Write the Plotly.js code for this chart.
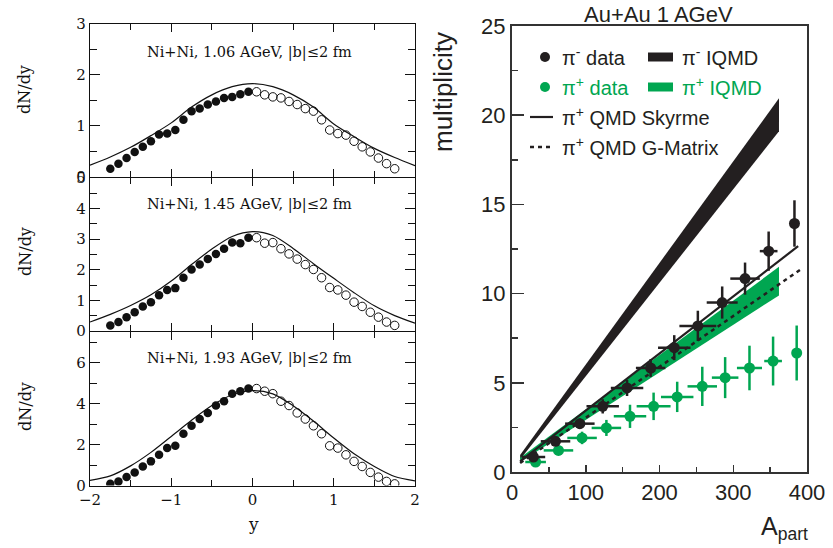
<!DOCTYPE html>
<html>
<head>
<meta charset="utf-8">
<script src="https://cdn.plot.ly/plotly-3.0.1.min.js"></script>
<style>html,body{margin:0;padding:0;background:#fff;}#chart{width:833px;height:548px;}</style>
</head>
<body>
<div id="chart"></div>
<script>
// ---------- DATA: left panels (dN/dy vs y) ----------
const yFilled = [-1.75,-1.65,-1.55,-1.45,-1.35,-1.25,-1.15,-1.05,-0.95,-0.85,-0.75,-0.65,-0.55,-0.45,-0.35,-0.25,-0.15,-0.05];
const yOpen   = [0.05,0.15,0.25,0.35,0.45,0.55,0.65,0.75,0.85,0.95,1.05,1.15,1.25,1.35,1.45,1.55,1.65,1.75];
const yCurve  = [-2,-1.75,-1.5,-1.25,-1,-0.75,-0.5,-0.25,0,0.25,0.5,0.75,1,1.25,1.5,1.75,2];

const p1Filled = [0.16,0.26,0.37,0.49,0.59,0.70,0.83,0.85,0.92,1.12,1.29,1.34,1.42,1.48,1.55,1.57,1.62,1.67];
const p1Open   = [1.67,1.61,1.57,1.55,1.48,1.42,1.34,1.29,1.12,0.92,0.85,0.82,0.70,0.59,0.49,0.37,0.26,0.16];
const p1Curve  = [0.23,0.39,0.58,0.81,1.06,1.37,1.61,1.77,1.83,1.77,1.61,1.37,1.04,0.79,0.56,0.38,0.22];

const p2Filled = [0.18,0.29,0.45,0.61,0.80,0.94,1.17,1.34,1.40,1.74,2.01,2.17,2.35,2.52,2.69,2.89,2.87,3.05];
const p2Open   = [3.05,2.87,2.89,2.69,2.52,2.35,2.17,2.01,1.74,1.42,1.34,1.17,0.94,0.80,0.61,0.45,0.29,0.18];
const p2Curve  = [0.29,0.54,0.83,1.18,1.63,2.17,2.68,3.09,3.25,3.12,2.70,2.20,1.72,1.25,0.82,0.50,0.25];

const p3Filled = [0.08,0.20,0.41,0.64,0.93,1.18,1.50,1.83,1.94,2.53,2.92,3.25,3.55,3.91,4.12,4.49,4.61,4.74];
const p3Open   = [4.74,4.61,4.49,4.12,3.91,3.55,3.25,2.92,2.53,1.94,1.83,1.50,1.18,0.93,0.64,0.41,0.20,0.08];
const p3Curve  = [0.25,0.47,0.96,1.62,2.40,3.19,3.91,4.44,4.64,4.48,3.90,3.15,2.32,1.55,0.93,0.44,0.23];

const panelLabels = ["Ni+Ni, 1.06 AGeV, |b|≤2 fm","Ni+Ni, 1.45 AGeV, |b|≤2 fm","Ni+Ni, 1.93 AGeV, |b|≤2 fm"];

// ---------- DATA: right panel (multiplicity vs A_part) ----------
const piMinusA    = [29,59,92,123,156,188,220,252,285,316,348,383];
const piMinusM    = [0.84,1.72,2.71,3.68,4.71,5.83,6.97,8.19,9.50,10.84,12.38,13.93];
const piMinusAerr = [16,20,20,22,22,20,22,25,21,20,12,0];
const piMinusMerr = [0.15,0.2,0.3,0.4,0.45,0.5,0.7,0.85,0.9,0.9,1.1,1.3];

const piPlusA    = [32,63,95,128,160,192,224,258,289,322,354,386];
const piPlusM    = [0.56,1.21,1.91,2.47,3.12,3.68,4.21,4.80,5.29,5.83,6.22,6.67];
const piPlusAerr = [14,20,20,20,22,23,22,20,18,17,12,0];
const piPlusMerr = [0.1,0.2,0.35,0.45,0.65,0.77,0.85,1.1,1.15,1.25,1.37,1.54];

const bandA          = [11,362];
const iqmdMinusLow   = [0.70,19.1];
const iqmdMinusHigh  = [0.95,20.95];
const iqmdPlusLow    = [0.55,9.9];
const iqmdPlusHigh   = [0.80,11.5];

const skyrmeA = [11,388];
const skyrmeM = [0.60,12.66];
const gmatA   = [11,393];
const gmatM   = [0.50,11.40];

const legendLabels = ["π<sup>-</sup> data","π<sup>-</sup> IQMD","π<sup>+</sup> data","π<sup>+</sup> IQMD","π<sup>+</sup> QMD Skyrme","π<sup>+</sup> QMD G-Matrix"];

// ---------- helpers ----------
const W = 833, H = 548;
const X = p => p / W;
const Y = p => 1 - p / H;
const BLACK = '#231f20', GREEN = '#00a651';
const SERIF = 'DejaVu Serif', SANS = 'Liberation Sans';
const LW = 1.2;   // left frame line width
const h = LW / 2; // half width: axis lines are drawn just outside the plot area

const traces = [];
const panels = [
  {f:p1Filled, o:p1Open, c:p1Curve, xa:'x',  ya:'y'},
  {f:p2Filled, o:p2Open, c:p2Curve, xa:'x2', ya:'y2'},
  {f:p3Filled, o:p3Open, c:p3Curve, xa:'x3', ya:'y3'}
];
panels.forEach(p => {
  traces.push({x:yCurve, y:p.c, xaxis:p.xa, yaxis:p.ya, mode:'lines', line:{color:'#111', width:1.2, shape:'spline', smoothing:0.8}, hoverinfo:'skip'});
  traces.push({x:yFilled, y:p.f, xaxis:p.xa, yaxis:p.ya, mode:'markers', marker:{symbol:'circle', size:8.5, color:'#111'}, hoverinfo:'skip'});
  traces.push({x:yOpen, y:p.o, xaxis:p.xa, yaxis:p.ya, mode:'markers', marker:{symbol:'circle-open', size:8.5, color:'#111', line:{width:1}}, hoverinfo:'skip'});
});

// bands
traces.push({x:bandA, y:iqmdMinusLow, xaxis:'x4', yaxis:'y4', mode:'lines', line:{width:0, color:BLACK}, hoverinfo:'skip'});
traces.push({x:bandA, y:iqmdMinusHigh, xaxis:'x4', yaxis:'y4', mode:'lines', line:{width:0, color:BLACK}, fill:'tonexty', fillcolor:BLACK, hoverinfo:'skip'});
traces.push({x:bandA, y:iqmdPlusLow, xaxis:'x4', yaxis:'y4', mode:'lines', line:{width:0, color:GREEN}, hoverinfo:'skip'});
traces.push({x:bandA, y:iqmdPlusHigh, xaxis:'x4', yaxis:'y4', mode:'lines', line:{width:0, color:GREEN}, fill:'tonexty', fillcolor:GREEN, hoverinfo:'skip'});
// model lines
traces.push({x:skyrmeA, y:skyrmeM, xaxis:'x4', yaxis:'y4', mode:'lines', line:{color:BLACK, width:2.2}, hoverinfo:'skip'});
traces.push({x:gmatA, y:gmatM, xaxis:'x4', yaxis:'y4', mode:'lines', line:{color:BLACK, width:2.5, dash:'4px,4px'}, hoverinfo:'skip'});
// data
traces.push({x:piPlusA, y:piPlusM, xaxis:'x4', yaxis:'y4', mode:'markers',
  marker:{size:11, color:GREEN},
  error_x:{type:'data', array:piPlusAerr, color:GREEN, thickness:2.5, width:0},
  error_y:{type:'data', array:piPlusMerr, color:GREEN, thickness:2.5, width:0}, hoverinfo:'skip'});
traces.push({x:piMinusA, y:piMinusM, xaxis:'x4', yaxis:'y4', mode:'markers',
  marker:{size:11, color:BLACK},
  error_x:{type:'data', array:piMinusAerr, color:BLACK, thickness:2.5, width:0},
  error_y:{type:'data', array:piMinusMerr, color:BLACK, thickness:2.5, width:0}, hoverinfo:'skip'});

// ---------- axes ----------
const leftX = (anchor, showLabels) => ({
  domain:[X(90), X(415)], anchor:anchor, range:[-2,2], dtick:1, tick0:0,
  ticks:'inside', ticklen:8, tickwidth:1, tickcolor:'#111',
  minor:{dtick:0.5, ticks:'inside', ticklen:6, tickcolor:'#111', tickwidth:1},
  showline:true, linecolor:'#111', linewidth:LW, mirror:'allticks',
  showgrid:false, zeroline:false, showticklabels:showLabels,
  tickfont:{family:SERIF, size:15, color:'#111'}
});
const leftY = (anchor, dom, range, dt, mdt) => ({
  domain:dom, anchor:anchor, range:range, dtick:dt, tick0:0,
  ticks:'inside', ticklen:10, tickwidth:1, tickcolor:'#111',
  minor:{dtick:mdt, ticks:'inside', ticklen:7, tickcolor:'#111', tickwidth:1},
  showline:true, linecolor:'#111', linewidth:LW, mirror:'allticks',
  showgrid:false, zeroline:false,
  tickfont:{family:SERIF, size:15, color:'#111'}
});

const annotations = [];
const shapes = [];
const panelLabelY = [52, 205, 358];
panelLabels.forEach((t,i) => annotations.push({xref:'paper', yref:'paper', x:X(250), y:Y(panelLabelY[i]), text:t, showarrow:false, xanchor:'center', yanchor:'middle', font:{family:SERIF, size:14.5, color:'#111'}}));
[90, 252, 407].forEach(yy => annotations.push({xref:'paper', yref:'paper', x:X(25), y:Y(yy), text:'dN/dy', textangle:-90, showarrow:false, xanchor:'center', yanchor:'middle', font:{family:SERIF, size:16, color:'#111'}}));
annotations.push({xref:'paper', yref:'paper', x:X(253), y:Y(524), text:'y', showarrow:false, xanchor:'center', yanchor:'middle', font:{family:SERIF, size:17, color:'#111'}});

// right panel titles
annotations.push({xref:'paper', yref:'paper', x:X(658), y:Y(14), text:'Au+Au 1 AGeV', showarrow:false, xanchor:'center', yanchor:'middle', font:{family:SANS, size:22, color:BLACK}});
annotations.push({xref:'paper', yref:'paper', x:X(443), y:Y(92), text:'multiplicity', textangle:-90, showarrow:false, xanchor:'center', yanchor:'middle', font:{family:SANS, size:26, color:BLACK}});
annotations.push({xref:'paper', yref:'paper', x:X(810), y:Y(528), text:'A<sub>part</sub>', showarrow:false, xanchor:'right', yanchor:'middle', font:{family:SANS, size:25, color:BLACK}});

// legend (manual)
const rowY = [57, 87, 117, 147];
const legFont = c => ({family:SANS, size:20, color:c});
annotations.push({xref:'paper', yref:'paper', x:X(560), y:Y(rowY[0]), text:legendLabels[0], showarrow:false, xanchor:'left', yanchor:'middle', font:legFont(BLACK)});
annotations.push({xref:'paper', yref:'paper', x:X(680), y:Y(rowY[0]), text:legendLabels[1], showarrow:false, xanchor:'left', yanchor:'middle', font:legFont(BLACK)});
annotations.push({xref:'paper', yref:'paper', x:X(560), y:Y(rowY[1]), text:legendLabels[2], showarrow:false, xanchor:'left', yanchor:'middle', font:legFont(GREEN)});
annotations.push({xref:'paper', yref:'paper', x:X(680), y:Y(rowY[1]), text:legendLabels[3], showarrow:false, xanchor:'left', yanchor:'middle', font:legFont(GREEN)});
annotations.push({xref:'paper', yref:'paper', x:X(560), y:Y(rowY[2]), text:legendLabels[4], showarrow:false, xanchor:'left', yanchor:'middle', font:legFont(BLACK)});
annotations.push({xref:'paper', yref:'paper', x:X(560), y:Y(rowY[3]), text:legendLabels[5], showarrow:false, xanchor:'left', yanchor:'middle', font:legFont(BLACK)});

shapes.push({type:'circle', xref:'paper', yref:'paper', x0:X(540), x1:X(550), y0:Y(rowY[0]+5), y1:Y(rowY[0]-5), fillcolor:BLACK, line:{width:0}});
shapes.push({type:'circle', xref:'paper', yref:'paper', x0:X(540), x1:X(550), y0:Y(rowY[1]+5), y1:Y(rowY[1]-5), fillcolor:GREEN, line:{width:0}});
shapes.push({type:'rect', xref:'paper', yref:'paper', x0:X(648), x1:X(673), y0:Y(rowY[0]+4.5), y1:Y(rowY[0]-4.5), fillcolor:BLACK, line:{width:0}});
shapes.push({type:'rect', xref:'paper', yref:'paper', x0:X(648), x1:X(673), y0:Y(rowY[1]+4.5), y1:Y(rowY[1]-4.5), fillcolor:GREEN, line:{width:0}});
shapes.push({type:'line', xref:'paper', yref:'paper', x0:X(530), x1:X(553), y0:Y(rowY[2]), y1:Y(rowY[2]), line:{color:BLACK, width:2.2}});
shapes.push({type:'line', xref:'paper', yref:'paper', x0:X(530), x1:X(554), y0:Y(rowY[3]), y1:Y(rowY[3]), line:{color:BLACK, width:2.5, dash:'4px,4px'}});

const layout = {
  width:W, height:H, autosize:false,
  margin:{l:0, r:0, t:0, b:0},
  paper_bgcolor:'#fff', plot_bgcolor:'rgba(0,0,0,0)',
  showlegend:false,
  xaxis: leftX('y', false),
  xaxis2: leftX('y2', false),
  xaxis3: leftX('y3', true),
  yaxis: leftY('x', [Y(177.5 - h), Y(24)], [0,3], 1, 0.5),
  yaxis2: leftY('x2', [Y(331.5 - h), Y(177.5 + h)], [0,5], 1, 0.5),
  yaxis3: leftY('x3', [Y(485.5), Y(331.5 + h)], [0,7.5], 2, 1),
  xaxis4: {domain:[X(512), X(807)], anchor:'y4', range:[0,400], dtick:100, tick0:0,
    ticks:'inside', ticklen:7, tickwidth:1.5, tickcolor:'#333',
    minor:{dtick:50, ticks:'inside', ticklen:5, tickcolor:'#333', tickwidth:1.5},
    showline:true, linecolor:'#333', linewidth:2, mirror:true, showgrid:false, zeroline:false,
    tickfont:{family:SANS, size:22, color:BLACK}},
  yaxis4: {domain:[Y(472), Y(26)], anchor:'x4', range:[0,25], dtick:5, tick0:0,
    ticks:'inside', ticklen:12, tickwidth:1.5, tickcolor:'#333',
    minor:{dtick:2.5, ticks:'inside', ticklen:6, tickcolor:'#333', tickwidth:1.5},
    showline:true, linecolor:'#333', linewidth:2, mirror:true, showgrid:false, zeroline:false,
    tickfont:{family:SANS, size:22, color:BLACK}},
  annotations: annotations,
  shapes: shapes
};

Plotly.newPlot('chart', traces, layout, {staticPlot:true, displayModeBar:false});
</script>
</body>
</html>
